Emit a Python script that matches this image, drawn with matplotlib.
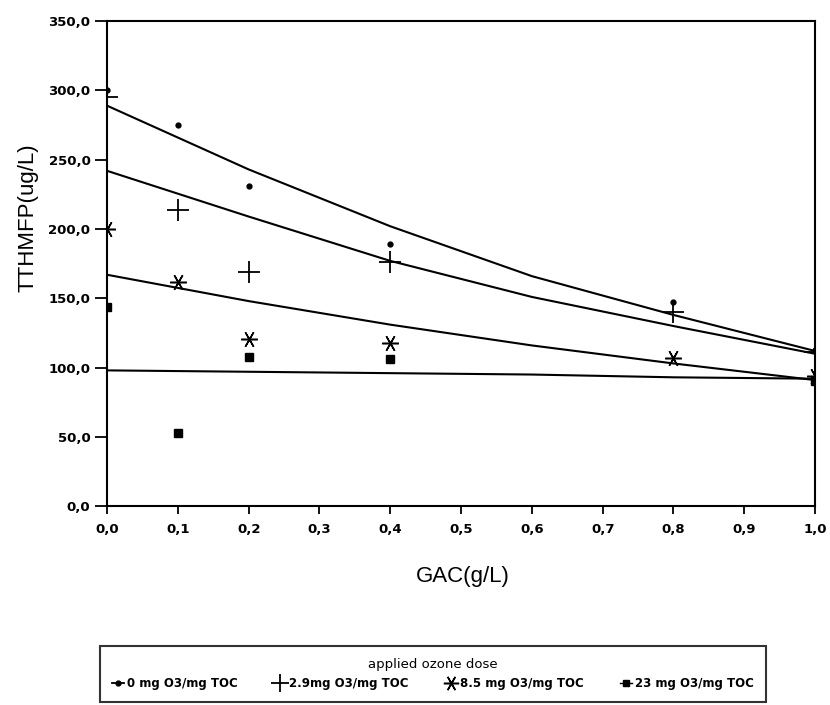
import numpy as np
import matplotlib
matplotlib.use("Agg")
import matplotlib.pyplot as plt
from matplotlib.lines import Line2D

# measured points
gac = [0.0, 0.1, 0.2, 0.4, 0.8, 1.0]
dose_0 = [300, 275, 231, 189, 147, 113]
dose_29 = [295, 214, 169, 176, 140, 111]
dose_85 = [200, 162, 121, 118, 107, 94]
gac_23 = [0.0, 0.1, 0.2, 0.4, 1.0]
dose_23 = [144, 53, 108, 106, 90]

# trend lines
fit_x = [0.0, 0.2, 0.4, 0.6, 0.8, 1.0]
fit_0 = [289, 243, 202, 166, 138, 112]
fit_29 = [242, 209, 177, 151, 130, 110]
fit_85 = [167, 148, 131, 116, 103, 91]
fit_23 = [98, 97, 96, 95, 93, 92]

labels = ["0 mg O3/mg TOC", "2.9mg O3/mg TOC", "8.5 mg O3/mg TOC", "23 mg O3/mg TOC"]
xticks = [0.0, 0.1, 0.2, 0.3, 0.4, 0.5, 0.6, 0.7, 0.8, 0.9, 1.0]
yticks = [0, 50, 100, 150, 200, 250, 300, 350]

fig = plt.figure(figsize=(8.3, 7.05), dpi=100)
ax = fig.add_axes([0.129, 0.282, 0.853, 0.688])

for fy in [fit_0, fit_29, fit_85, fit_23]:
    ax.plot(fit_x, fy, color="black", lw=1.5)

ax.plot(gac, dose_0, ls="none", marker="o", ms=3.5, color="black")
ax.plot(gac, dose_29, ls="none", marker="+", ms=16, mew=1.3, color="black")
ax.plot(gac, dose_85, ls="none", marker=(6, 2, 90), ms=12, mew=1.1, color="black")
ax.plot(gac_23, dose_23, ls="none", marker="s", ms=6, color="black")

ax.set_xlim(0, 1.0)
ax.set_ylim(0, 350)
ax.set_xticks(xticks)
ax.set_xticklabels([f"{v:.1f}".replace(".", ",") for v in xticks])
ax.set_yticks(yticks)
ax.set_yticklabels([f"{v:.1f}".replace(".", ",") for v in yticks])
ax.tick_params(axis="y", direction="out", length=9, width=1.3, labelsize=9.5, pad=3)
ax.tick_params(axis="x", direction="out", length=6, width=1.3, labelsize=9.5, pad=6)
for lab in ax.get_xticklabels() + ax.get_yticklabels():
    lab.set_fontweight("bold")
for s in ax.spines.values():
    s.set_linewidth(1.5)

ax.set_ylabel("TTHMFP(ug/L)", fontsize=16, family="Liberation Sans")
ax.yaxis.set_label_coords(-0.097, 0.595)
ax.set_xlabel("GAC(g/L)", fontsize=16, family="Liberation Sans")
ax.xaxis.set_label_coords(0.503, -0.124)

handles = [
    Line2D([], [], color="black", lw=1.3, marker="o", ms=3.5),
    Line2D([], [], color="black", lw=0, marker="+", ms=13, mew=1.3),
    Line2D([], [], color="black", lw=0, marker=(6, 2, 90), ms=11, mew=1.1),
    Line2D([], [], color="black", lw=1.0, marker="s", ms=5),
]
leg = fig.legend(handles, labels, ncol=4, title="applied ozone dose",
                 loc="lower left", bbox_to_anchor=(100 / 830, 3 / 705, 666 / 830, 55 / 705),
                 mode="expand", prop={"size": 8.5, "weight": "bold"},
                 title_fontsize=9.5, handlelength=1.0, handletextpad=0.3,
                 columnspacing=0.6, fancybox=False, edgecolor="black",
                 borderaxespad=0, borderpad=1.0)
leg.get_frame().set_linewidth(1.5)

fig.savefig("out.png", dpi=100)
